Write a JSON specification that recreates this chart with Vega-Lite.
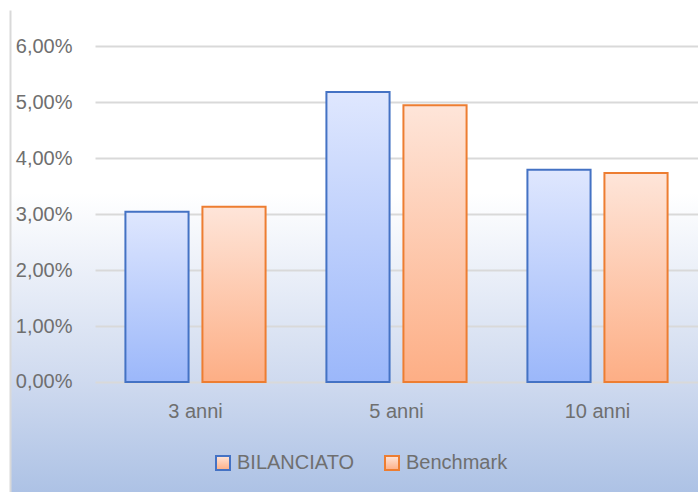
{
  "$schema": "https://vega.github.io/schema/vega-lite/v6.json",
  "width": 688,
  "height": 482,
  "autosize": {"type": "none"},
  "padding": {"left": 10, "top": 10, "right": 0, "bottom": 0},
  "background": "#ffffff",
  "config": {
    "font": "Liberation Sans",
    "view": {
      "stroke": null,
      "fill": {
        "gradient": "linear", "x1": 0, "y1": 0, "x2": 0, "y2": 1,
        "stops": [
          {"offset": 0, "color": "#ffffff"},
          {"offset": 0.38, "color": "#ffffff"},
          {"offset": 0.77, "color": "#cfdaef"},
          {"offset": 1, "color": "#adc2e5"}
        ]
      }
    }
  },
  "data": {
    "values": [
      {"period": "3 anni", "series": "BILANCIATO", "value": 0.0304},
      {"period": "3 anni", "series": "Benchmark", "value": 0.0313},
      {"period": "5 anni", "series": "BILANCIATO", "value": 0.0518},
      {"period": "5 anni", "series": "Benchmark", "value": 0.0494},
      {"period": "10 anni", "series": "BILANCIATO", "value": 0.0379},
      {"period": "10 anni", "series": "Benchmark", "value": 0.0373}
    ]
  },
  "mark": {"type": "bar", "strokeWidth": 2},
  "encoding": {
    "x": {
      "field": "period", "type": "nominal",
      "sort": ["3 anni", "5 anni", "10 anni"],
      "scale": {"range": [85, 688], "paddingInner": 0, "paddingOuter": 0},
      "axis": {
        "title": null, "orient": "bottom", "domain": false, "ticks": false, "tickSize": 0,
        "labelAngle": 0, "labelBaseline": "middle", "labelPadding": -81,
        "labelFontSize": 20, "labelColor": "#6f6f6f", "labelFont": "Liberation Sans"
      }
    },
    "xOffset": {
      "field": "series", "type": "nominal",
      "scale": {"domain": ["BILANCIATO", "Benchmark"], "paddingInner": 0.18, "paddingOuter": 0.395}
    },
    "y": {
      "field": "value", "type": "quantitative",
      "scale": {"domain": [-0.019643, 0.066429], "nice": false, "zero": false},
      "axis": {
        "title": null, "values": [0, 0.01, 0.02, 0.03, 0.04, 0.05, 0.06],
        "labelExpr": "replace(format(datum.value, '.2%'), '.', ',')",
        "grid": true, "gridColor": "#d9d9d9", "gridWidth": 2,
        "ticks": false, "tickSize": 0,
        "domain": true, "domainColor": "#d9d9d9", "domainWidth": 2,
        "labelAlign": "right", "labelBaseline": "middle", "labelPadding": -62,
        "labelFontSize": 20, "labelColor": "#6f6f6f", "labelFont": "Liberation Sans"
      }
    },
    "y2": {"datum": 0},
    "stroke": {
      "field": "series", "type": "nominal",
      "scale": {"domain": ["BILANCIATO", "Benchmark"], "range": ["#4472c4", "#ed7d31"]},
      "legend": {
        "title": null, "orient": "none", "direction": "horizontal",
        "legendX": 203, "legendY": 443,
        "symbolType": "square", "symbolSize": 196, "symbolStrokeWidth": 2,
        "labelFontSize": 20, "labelColor": "#6f6f6f", "labelFont": "Liberation Sans",
        "labelOffset": 4, "columnPadding": 26,
        "encode": {
          "symbols": {
            "update": {
              "fill": {"signal": "datum.value === 'BILANCIATO' ? '#d0dcfd' : '#fed3bf'"}
            }
          }
        }
      }
    },
    "fill": {
      "condition": {
        "test": "datum.series === 'BILANCIATO'",
        "value": {
          "gradient": "linear", "x1": 0, "y1": 0, "x2": 0, "y2": 1,
          "stops": [
            {"offset": 0, "color": "#dfe7fe"},
            {"offset": 1, "color": "#9bb7fa"}
          ]
        }
      },
      "value": {
        "gradient": "linear", "x1": 0, "y1": 0, "x2": 0, "y2": 1,
        "stops": [
          {"offset": 0, "color": "#fee5d9"},
          {"offset": 1, "color": "#fdae85"}
        ]
      }
    }
  }
}
